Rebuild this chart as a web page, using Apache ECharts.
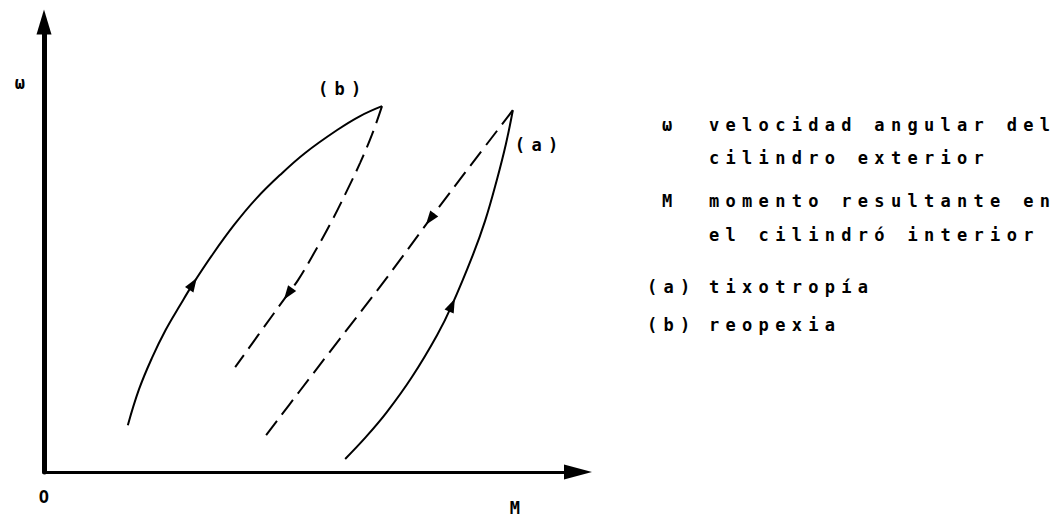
<!DOCTYPE html>
<html>
<head>
<meta charset="utf-8">
<title>Tixotropía y reopexia</title>
<script src="https://cdn.jsdelivr.net/npm/echarts@6/dist/echarts.min.js"></script>
<style>
  html, body { margin: 0; padding: 0; background: #fff; }
  #chart { width: 1060px; height: 521px; }
  /* typewriter-like spacing for every label of the figure */
  #chart text { letter-spacing: 6.3px; }
</style>
</head>
<body>
<div id="chart"></div>
<script>
// Curve (b) reopexia: rising branch (solid) and returning branch (dashed), [M, ω]
const reopexiaUp = [[15.7, 10.4], [17.8, 18.4], [20.2, 25.3], [22.8, 31.6], [25.5, 37.1], [27.9, 41.8],
                    [31.6, 48.4], [35.6, 54.9], [39.7, 60.7], [44.2, 66.0], [48.9, 70.9], [54.9, 76.0],
                    [59.2, 79.1], [63.3, 81.3]];
const reopexiaDown = [[63.3, 81.3], [61.4, 74.9], [59.2, 68.7], [56.6, 62.2], [53.6, 55.1], [50.6, 48.7],
                      [47.6, 42.7], [45.7, 39.6], [40.1, 30.4], [35.8, 23.3]];

// Curve (a) tixotropía: rising branch (solid) and returning branch (dashed), [M, ω]
const tixotropiaUp = [[56.4, 2.9], [60.3, 7.8], [64.2, 13.3], [68.9, 21.1], [73.6, 30.4], [76.4, 37.1],
                      [80.3, 48.2], [82.6, 55.8], [84.8, 64.9], [86.5, 72.9], [87.8, 80.4]];
const tixotropiaDown = [[87.8, 80.4], [79.8, 68.0], [72.3, 56.2], [63.9, 42.7], [55.4, 29.6],
                        [47.9, 18.0], [41.6, 8.2]];

// Direction-of-travel markers: which branch, and the index of the point they sit on
const flowMarkers = [
  { branch: 'reopexiaUp', at: 5 },
  { branch: 'reopexiaDown', at: 7 },
  { branch: 'tixotropiaDown', at: 2 },
  { branch: 'tixotropiaUp', at: 5 }
];

// Curve names placed near each peak
const curveTags = ['(b)', '(a)'];

// Axis symbols
const axisSymbols = { origin: 'O', x: 'M', y: 'ω' };

// Key to the symbols
const keySymbols = ['ω', 'M', '(a)', '(b)'];
const keyTexts = [
  ['velocidad angular del', 'cilindro exterior'],
  ['momento resultante en', 'el cilindró interior'],
  ['tixotropía'],
  ['reopexia']
];

const branches = { reopexiaUp, reopexiaDown, tixotropiaUp, tixotropiaDown };

const FONT_FAMILY = '"DejaVu Sans Mono", "Liberation Mono", monospace';
const FONT = 'bold 17px ' + FONT_FAMILY;
const INK = '#000';

const chart = echarts.init(document.getElementById('chart'), null, { renderer: 'svg' });

function curve(id, data, dashed) {
  return {
    id, name: id, type: 'line', data, smooth: 0.4, showSymbol: false, silent: true,
    lineStyle: { color: INK, width: 2, type: dashed ? [18, 8] : 'solid' },
    z: 3
  };
}

// Text graphics: axis symbols and the key on the right
const graphics = [];
function addText(text, x, y, align) {
  graphics.push({
    type: 'text', x, y, silent: true,
    style: { text, font: FONT, fill: INK, align: align || 'left', verticalAlign: 'middle' }
  });
}
addText(axisSymbols.y, 23, 83, 'center');
addText(axisSymbols.origin, 47, 497, 'center');
addText(axisSymbols.x, 518, 508, 'center');

const keyX = [662, 662, 647, 647];
const keyRowY = [[125, 158], [201, 235], [287], [325]];
keySymbols.forEach((s, i) => {
  addText(s, keyX[i], keyRowY[i][0]);
  keyTexts[i].forEach((line, j) => addText(line, 709, keyRowY[i][j]));
});

const option = {
  animation: false,
  backgroundColor: '#fff',
  grid: { left: 44, right: 482, top: 22, bottom: 49, outerBoundsMode: 'none', containLabel: false },
  xAxis: {
    type: 'value', min: 0, max: 100,
    axisLine: { show: true, onZero: false, symbol: ['none', 'triangle'], symbolSize: [15, 28],
                lineStyle: { color: INK, width: 3 } },
    axisTick: { show: false }, axisLabel: { show: false }, splitLine: { show: false }
  },
  yAxis: {
    type: 'value', min: 0, max: 100,
    axisLine: { show: true, onZero: false, symbol: ['none', 'triangle'], symbolSize: [15, 25],
                lineStyle: { color: INK, width: 5 } },
    axisTick: { show: false }, axisLabel: { show: false }, splitLine: { show: false }
  },
  series: [
    curve('reopexiaUp', reopexiaUp, false),
    curve('reopexiaDown', reopexiaDown, true),
    curve('tixotropiaUp', tixotropiaUp, false),
    curve('tixotropiaDown', tixotropiaDown, true),
    {
      id: 'curveTags', type: 'scatter', silent: true, symbol: 'circle', symbolSize: 0,
      itemStyle: { color: 'rgba(0,0,0,0)', opacity: 1 },
      data: [
        { name: curveTags[0], value: reopexiaUp[reopexiaUp.length - 1], label: { offset: [-64, -17] } },
        { name: curveTags[1], value: tixotropiaUp[tixotropiaUp.length - 1], label: { offset: [2, 35] } }
      ],
      label: { show: true, position: 'inside', formatter: '{b}', color: INK, opacity: 1,
               fontFamily: FONT_FAMILY, fontWeight: 'bold', fontSize: 17,
               align: 'left', verticalAlign: 'middle' },
      z: 5
    },
    {
      id: 'flow', type: 'scatter', silent: true, symbol: 'triangle', symbolSize: [10, 14],
      itemStyle: { color: INK, opacity: 1 },
      data: flowMarkers.map(m => branches[m.branch][m.at]), z: 4
    }
  ],
  graphic: graphics
};

chart.setOption(option);

// Arrowheads follow the local direction of each branch in screen space
const markerData = flowMarkers.map(m => {
  const pts = branches[m.branch];
  const a = chart.convertToPixel({ gridIndex: 0 }, pts[m.at - 1]);
  const b = chart.convertToPixel({ gridIndex: 0 }, pts[m.at + 1]);
  const ang = Math.atan2(-(b[1] - a[1]), b[0] - a[0]) * 180 / Math.PI;
  return { value: pts[m.at], symbolRotate: ang - 90 };
});

chart.setOption({ series: [{ id: 'flow', data: markerData }] });
</script>
</body>
</html>
